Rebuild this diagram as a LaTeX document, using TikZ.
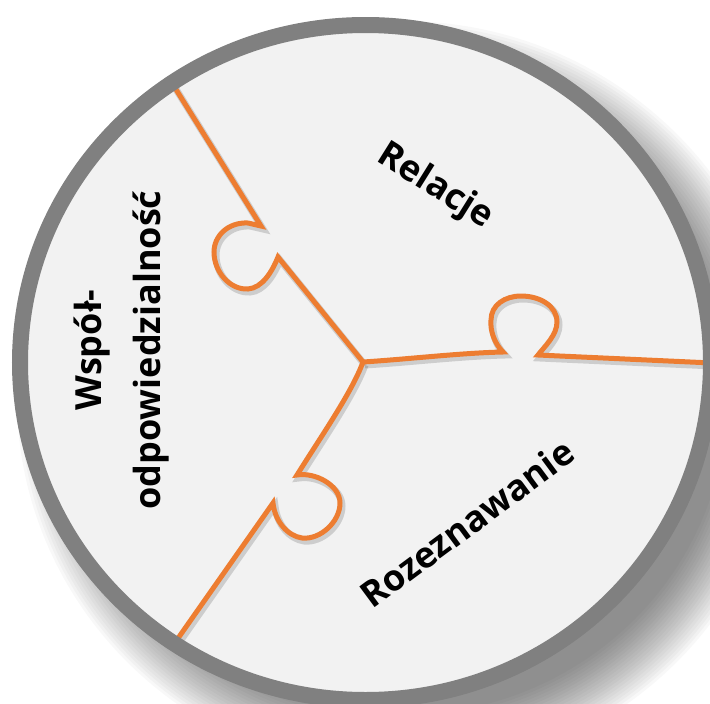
\documentclass[tikz,border=0pt]{standalone}
\usepackage{fontspec}
\setmainfont{Open Sans}
\definecolor{ringgray}{HTML}{808080}
\definecolor{fillgray}{HTML}{F2F2F2}
\definecolor{puzzleorange}{HTML}{ED7D31}
\tikzset{
  seam/.style={draw=puzzleorange, line width=5pt, line join=miter,
    preaction={draw=black, opacity=0.15, line width=7pt,
      transform canvas={shift={(2pt,-3pt)}}}},
  label/.style={font=\fontsize{36}{59}\selectfont\bfseries, text=black, align=center, inner sep=0pt},
  shadowlayer/.style={fill=black, opacity=0.026},
}
\begin{document}
\begin{tikzpicture}[x=1pt, y=-1pt]
\useasboundingbox (0,0) rectangle (710,704);
% soft shadow
\foreach \i in {0,...,20} {
  \path[shadowlayer] (402,398) ellipse [x radius={385-3*\i}, y radius={377-3*\i}];
}
% disc
\coordinate (c) at (365.5,362.5);
\path[fill=fillgray] (c) ellipse [x radius=345.5, y radius=337.5];
\coordinate (J) at (363,362);
\coordinate (r1) at (172,83);
\coordinate (r2) at (712,363);
\coordinate (r3) at (174,644);
% seams
\draw[seam] (r1) -- (261,226) -- (248,223)
  .. controls (228,222) and (214,236) .. (214,252)
  .. controls (214,272) and (230,290) .. (248,289)
  .. controls (262,288) and (272,272) .. (278,257) -- (J);
\draw[seam] (J) .. controls (410,359) and (460,353) .. (503,352)
  .. controls (494,343) and (490,330) .. (491,320)
  .. controls (491,305) and (505,296) .. (521,296)
  .. controls (540,296) and (557,306) .. (557,322)
  .. controls (557,335) and (545,346) .. (538,355) -- (r2);
\draw[seam] (J) .. controls (352,392) and (322,435) .. (297,475)
  .. controls (315,472) and (340,485) .. (340,503)
  .. controls (340,522) and (320,540) .. (302,538)
  .. controls (288,536) and (275,522) .. (273,503) -- (r3);
% ring
\draw[ringgray, line width=16pt] (c) ellipse [x radius=345.5, y radius=337.5];
% labels
\node[label, rotate=-32] (relacje) at (435,187) {Relacje};
\node[label, rotate=36.5] (rozez) at (467,523) {Rozeznawanie};
\node[label, rotate=90] (wspol) at (122,350) {Współ-\\odpowiedzialność};
\end{tikzpicture}
\end{document}
